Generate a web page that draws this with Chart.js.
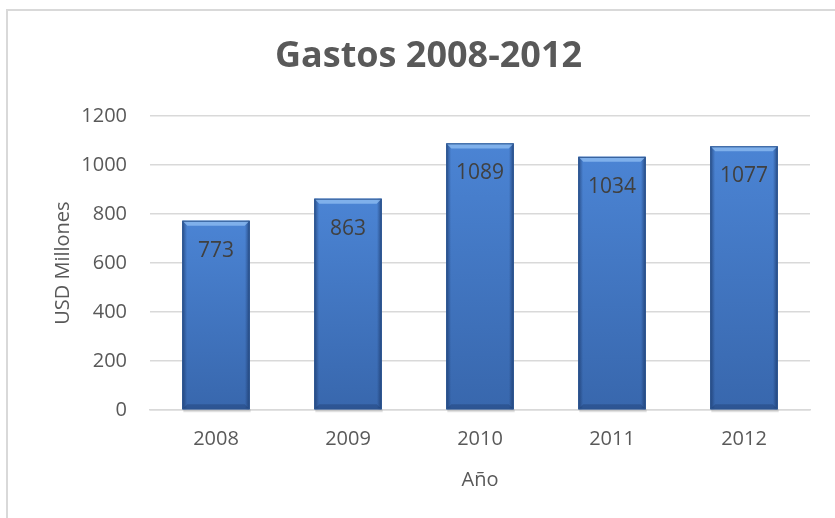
<!DOCTYPE html>
<html>
<head>
<meta charset="utf-8">
<script src="https://cdn.jsdelivr.net/npm/chart.js@4"></script>
<style>
  html, body { margin: 0; padding: 0; background: #fff; }
  #frame {
    position: absolute; left: 6px; top: 9px;
    width: 840px; height: 520px;
    border: 2px solid #d9d9d9; box-sizing: border-box;
  }
  #wrap { position: absolute; left: 0; top: 0; width: 835px; height: 518px; }
</style>
</head>
<body>
<div id="frame"></div>
<div id="wrap"><canvas id="gastosChart"></canvas></div>
<script>
// Chart data
const years = ['2008', '2009', '2010', '2011', '2012'];
const gastos = [773, 863, 1089, 1034, 1077];
const yTicks = [0, 200, 400, 600, 800, 1000, 1200];

const FONT = "'Open Sans', 'Liberation Sans', sans-serif";
const GREY = '#595959';

// Draws the Excel-like bevel on each bar and the value labels
const barStylePlugin = {
    id: 'barStyle',
    afterDatasetsDraw(chart) {
        const ctx = chart.ctx;
        const meta = chart.getDatasetMeta(0);
        meta.data.forEach((bar, i) => {
            const left = bar.x - bar.width / 2;
            const right = bar.x + bar.width / 2;
            const top = bar.y;
            const bottom = bar.base;
            const w = right - left;
            const h = bottom - top;
            const bev = 5;
            ctx.save();
            // soft shadow under the bar
            ctx.fillStyle = 'rgba(0,0,0,0.12)';
            ctx.fillRect(left + 1, bottom, w, 3);
            // vertical body shading
            const v = ctx.createLinearGradient(0, top, 0, bottom);
            v.addColorStop(0, '#4b84d4');
            v.addColorStop(1, '#3867ad');
            ctx.fillStyle = v;
            ctx.fillRect(left, top, w, h);
            // dark side edges
            const g = ctx.createLinearGradient(left, 0, right, 0);
            g.addColorStop(0, 'rgba(20,45,90,0.6)');
            g.addColorStop(0.07, 'rgba(20,45,90,0.0)');
            g.addColorStop(0.93, 'rgba(20,45,90,0.0)');
            g.addColorStop(1, 'rgba(20,45,90,0.65)');
            ctx.fillStyle = g;
            ctx.fillRect(left, top, w, h);
            // top bevel
            ctx.beginPath();
            ctx.moveTo(left, top);
            ctx.lineTo(right, top);
            ctx.lineTo(right - bev, top + bev);
            ctx.lineTo(left + bev, top + bev);
            ctx.closePath();
            ctx.fillStyle = 'rgba(150,195,245,0.7)';
            ctx.fill();
            // bottom bevel
            ctx.beginPath();
            ctx.moveTo(left, bottom);
            ctx.lineTo(right, bottom);
            ctx.lineTo(right - bev, bottom - bev);
            ctx.lineTo(left + bev, bottom - bev);
            ctx.closePath();
            ctx.fillStyle = 'rgba(30,60,110,0.4)';
            ctx.fill();
            // outline
            ctx.strokeStyle = '#2c5590';
            ctx.lineWidth = 1;
            ctx.strokeRect(left + 0.5, top + 0.5, w - 1, h - 1);
            // value label
            ctx.fillStyle = '#404040';
            ctx.font = '21px ' + FONT;
            ctx.textAlign = 'center';
            ctx.textBaseline = 'middle';
            ctx.fillText(String(gastos[i]), bar.x, top + 30);
            ctx.restore();
        });
    }
};

document.addEventListener('DOMContentLoaded', function() {
    const ctx = document.getElementById('gastosChart').getContext('2d');
    new Chart(ctx, {
        type: 'bar',
        data: {
            labels: years,
            datasets: [{
                label: 'Gastos',
                data: gastos,
                backgroundColor: '#4079c4',
                borderWidth: 0,
                barPercentage: 0.51,
                categoryPercentage: 1
            }]
        },
        options: {
            responsive: true,
            maintainAspectRatio: false,
            animation: false,
            layout: { padding: { left: 47, right: 25, top: 0, bottom: 23 } },
            plugins: {
                legend: { display: false },
                tooltip: { enabled: false },
                title: {
                    display: true,
                    text: 'Gastos 2008-2012',
                    color: GREY,
                    font: { family: FONT, size: 36, weight: 'bold' },
                    padding: { top: 35, bottom: 38 }
                }
            },
            scales: {
                x: {
                    grid: { display: false, drawTicks: false },
                    border: { display: true, color: '#d9d9d9', width: 1.5 },
                    ticks: { color: GREY, font: { family: FONT, size: 20 }, padding: 17 },
                    title: {
                        display: true, text: 'Año', color: GREY,
                        font: { family: FONT, size: 20 }, padding: { top: 0, bottom: 3 }
                    }
                },
                y: {
                    min: 0, max: 1200,
                    afterBuildTicks: function(axis) {
                        axis.ticks = yTicks.map(v => ({ value: v }));
                    },
                    afterFit: function(axis) {
                        axis.width = 103;
                    },
                    grid: { color: '#d9d9d9', lineWidth: 1.5, drawTicks: false },
                    border: { display: false },
                    ticks: {
                        color: GREY, font: { family: FONT, size: 20 }, padding: 23,
                        callback: v => String(v)
                    },
                    title: {
                        display: true, text: 'USD Millones', color: GREY,
                        font: { family: FONT, size: 20 }, padding: { bottom: 10 }
                    }
                }
            }
        },
        plugins: [barStylePlugin]
    });
});
</script>
</body>
</html>
